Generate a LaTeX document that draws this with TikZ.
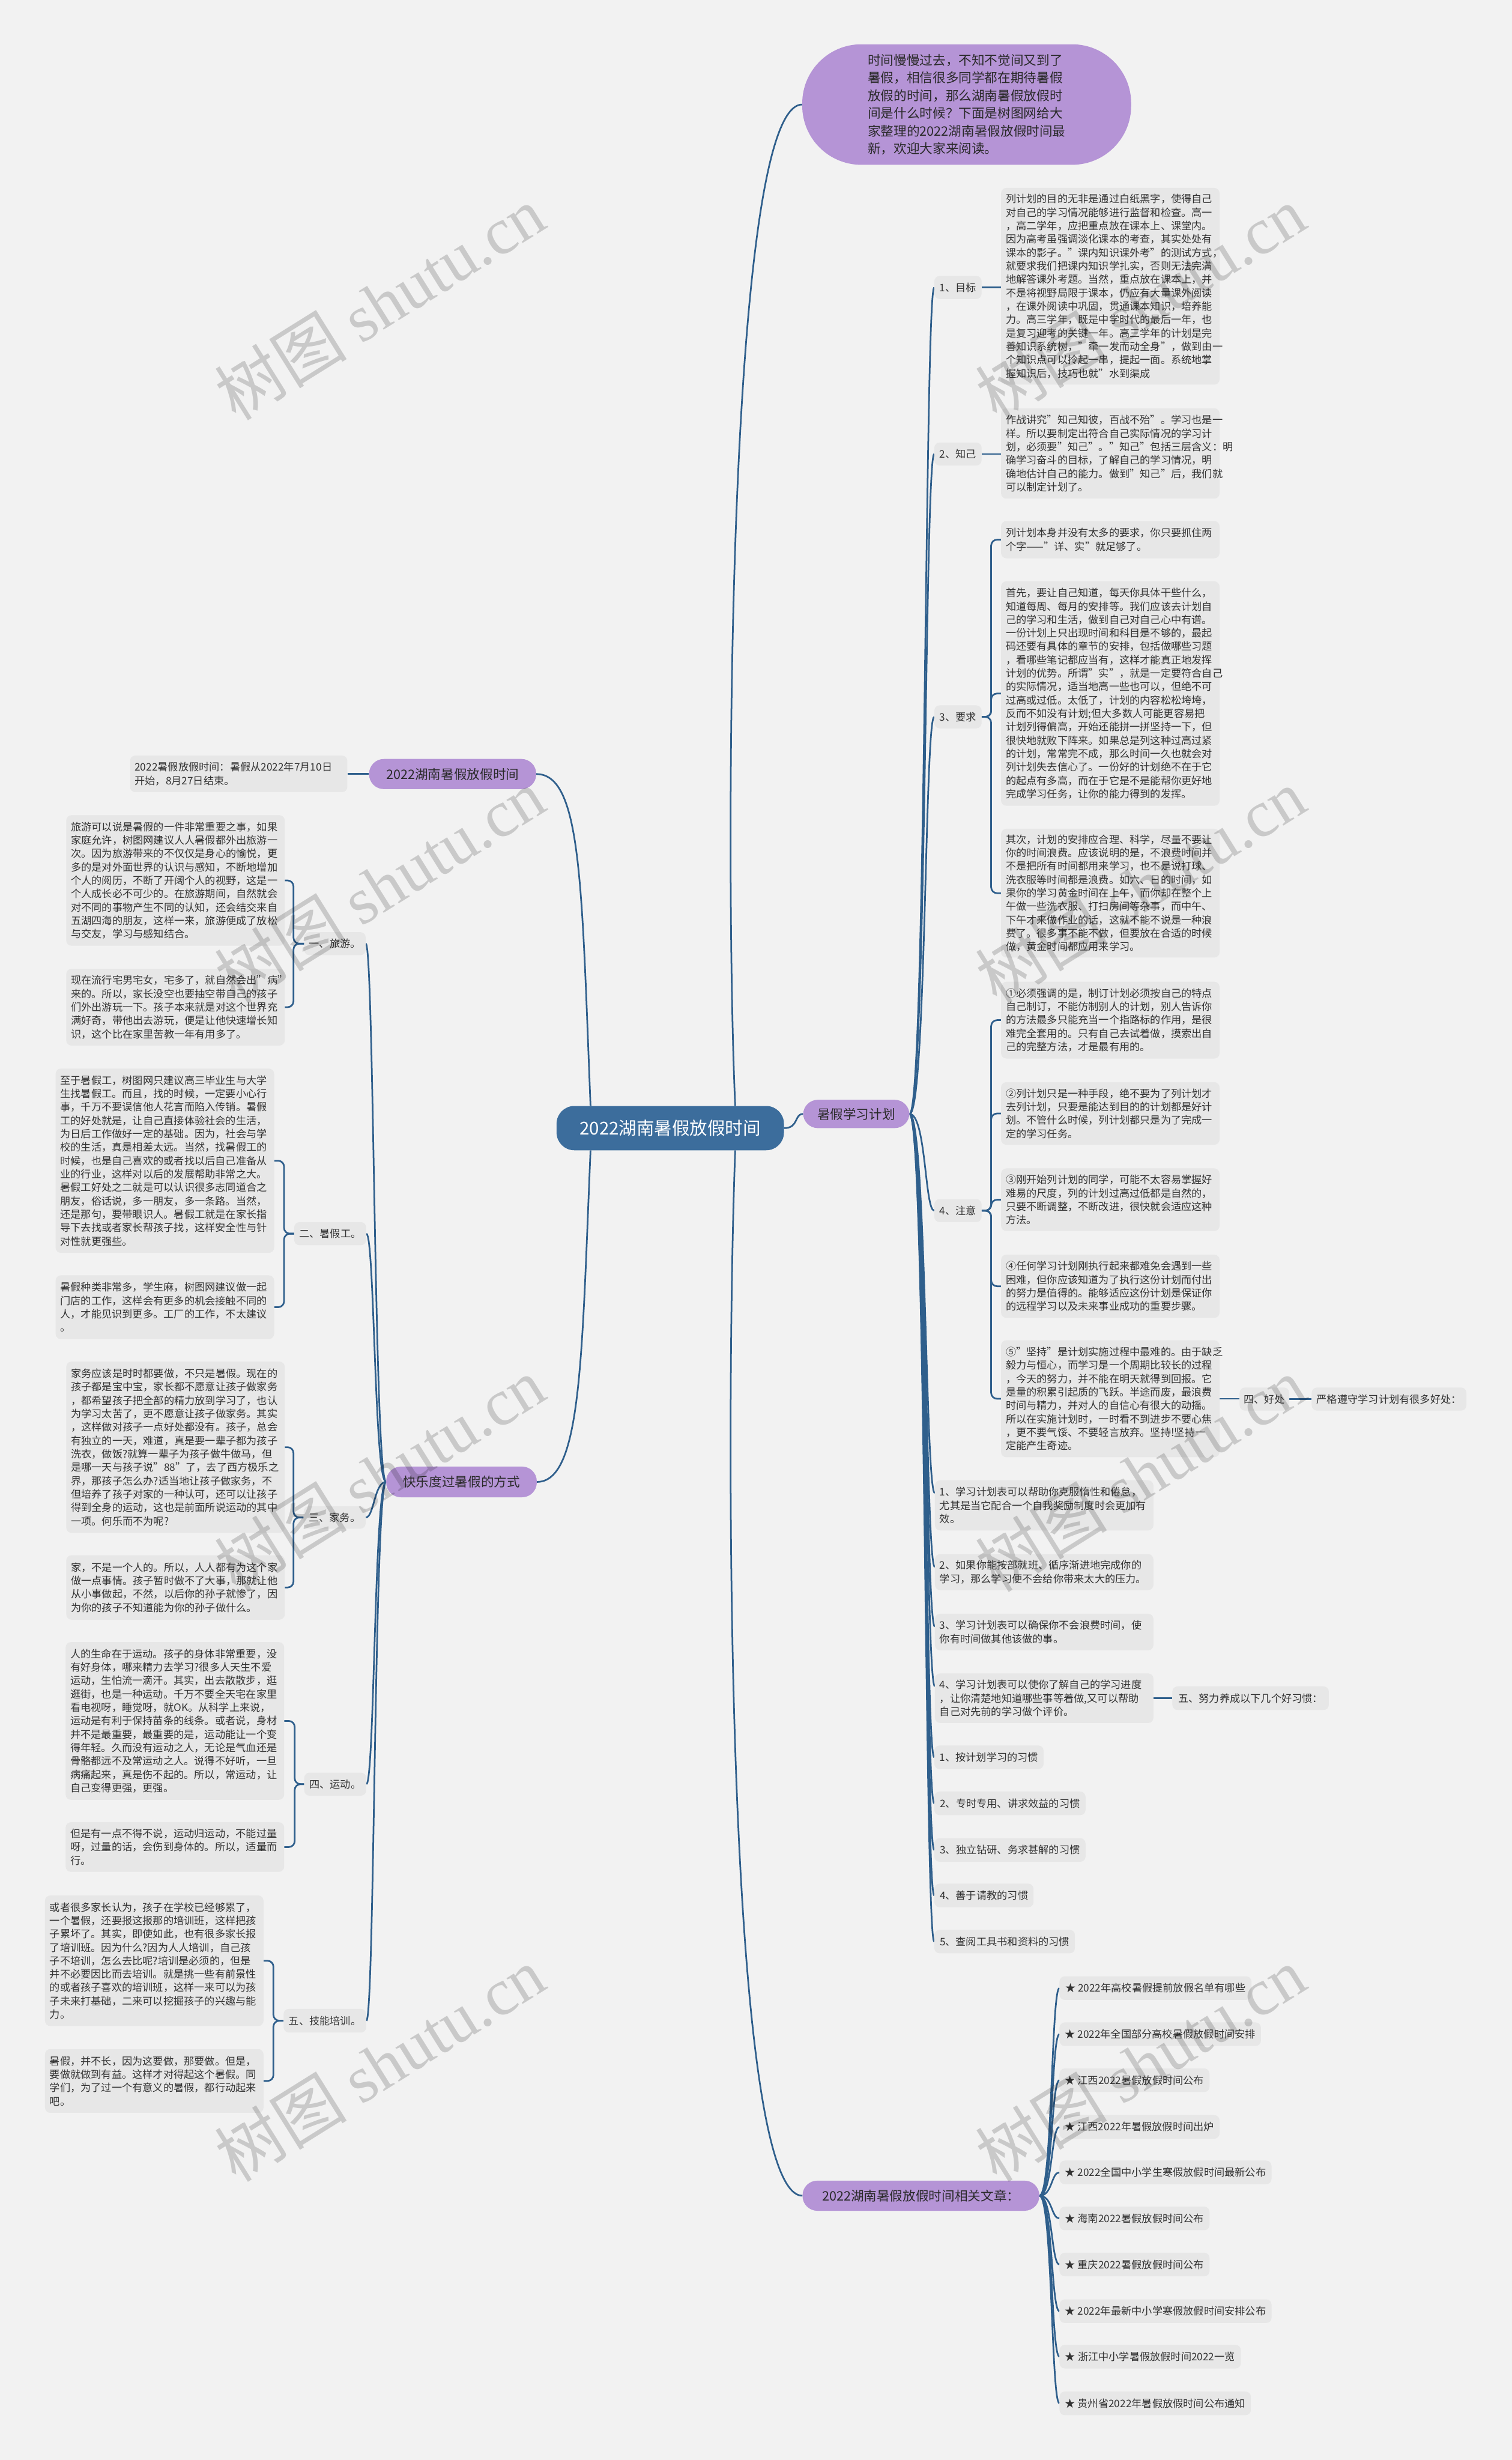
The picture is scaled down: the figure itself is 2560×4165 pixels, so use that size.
\documentclass[tikz,border=0pt]{standalone}
\usepackage{fontspec}
\setmainfont{Noto Sans CJK SC}
\newfontfamily\wmserif{Liberation Serif}
\usetikzlibrary{calc}
\definecolor{bgc}{HTML}{F2F2F2}
\definecolor{boxgray}{HTML}{E7E7E7}
\definecolor{txtc}{HTML}{333333}
\definecolor{lineblue}{HTML}{2F5F8C}
\definecolor{purp}{HTML}{B594D6}
\definecolor{ptxt}{HTML}{2A2A2A}
\definecolor{cblue}{HTML}{3C6D9C}
\pgfdeclarelayer{bg}
\pgfdeclarelayer{lines}
\pgfsetlayers{bg,lines,main}
\begin{document}
\begin{tikzpicture}[x=1pt,y=-1pt,
  conn/.style={draw=lineblue, line width=2.8pt},
  tb/.style={fill=boxgray, rounded corners=9pt, text=txtc, font=\fontsize{17.5}{22.7}\selectfont, align=left, inner xsep=8pt, inner ysep=0pt, text width=354pt, anchor=north west},
  lab/.style={fill=boxgray, rounded corners=9pt, text=txtc, font=\fontsize{17.5}{21}\selectfont, inner sep=0pt, minimum height=39pt},
  pur/.style={fill=purp, rounded corners=25pt, text=ptxt, font=\fontsize{22}{26}\selectfont, inner sep=0pt},
  wm/.style={text=black, text opacity=0.17, rotate=32, font=\fontsize{112}{112}\selectfont}]
\begin{pgfonlayer}{bg}
\fill[bgc] (0,0) rectangle (2560,4165);
\end{pgfonlayer}
\useasboundingbox (0,0) rectangle (2560,4165);

% ---------- main nodes ----------
\node[pur, rounded corners=100pt, minimum width=557pt, minimum height=204pt, align=left, font=\fontsize{22}{30}\selectfont] (intro) at (1637,177) {时间慢慢过去，不知不觉间又到了\\
暑假，相信很多同学都在期待暑假\\
放假的时间，那么湖南暑假放假时\\
间是什么时候？下面是树图网给大\\
家整理的2022湖南暑假放假时间最\\
新，欢迎大家来阅读。};

\node[fill=cblue, rounded corners=30pt, text=white, font=\fontsize{30}{34}\selectfont, minimum width=385pt, minimum height=75pt, inner sep=0pt] (root) at (1135,1910) {2022湖南暑假放假时间};

\node[pur, minimum width=180pt, minimum height=48pt] (plan) at (1450,1886) {暑假学习计划};
\node[pur, minimum width=283pt, minimum height=51pt] (n1) at (766.5,1310.5) {2022湖南暑假放假时间};
\node[pur, minimum width=255pt, minimum height=52pt] (happy) at (781.5,2509) {快乐度过暑假的方式};
\node[pur, minimum width=401pt, minimum height=51pt] (rel) at (1559.5,3717.5) {2022湖南暑假放假时间相关文章：};

% ---------- right: study plan ----------
\node[lab, anchor=north west, minimum width=80pt] (lab1) at (1582,467) {1、目标};
\node[lab, anchor=north west, minimum width=80pt] (lab2) at (1582,749) {2、知己};
\node[lab, anchor=north west, minimum width=80pt] (lab3) at (1582,1194) {3、要求};
\node[lab, anchor=north west, minimum width=80pt] (lab4) at (1582,2030) {4、注意};

\node[tb, minimum height=333pt] (tgoal) at (1695,318) {列计划的目的无非是通过白纸黑字，使得自己\\
对自己的学习情况能够进行监督和检查。高一\\
，高二学年，应把重点放在课本上、课堂内。\\
因为高考虽强调淡化课本的考查，其实处处有\\
课本的影子。"课内知识课外考"的测试方式，\\
就要求我们把课内知识学扎实，否则无法完满\\
地解答课外考题。当然，重点放在课本上，并\\
不是将视野局限于课本，仍应有大量课外阅读\\
，在课外阅读中巩固，贯通课本知识，培养能\\
力。高三学年，既是中学时代的最后一年，也\\
是复习迎考的关键一年。高三学年的计划是完\\
善知识系统树，"牵一发而动全身"，做到由一\\
个知识点可以拎起一串，提起一面。系统地掌\\
握知识后，技巧也就"水到渠成};

\node[tb, minimum height=153pt] (tzhi) at (1695,691) {作战讲究"知己知彼，百战不殆"。学习也是一\\
样。所以要制定出符合自己实际情况的学习计\\
划，必须要"知己"。"知己"包括三层含义：明\\
确学习奋斗的目标，了解自己的学习情况，明\\
确地估计自己的能力。做到"知己"后，我们就\\
可以制定计划了。};

\node[tb, minimum height=63pt] (treqA) at (1695,882) {列计划本身并没有太多的要求，你只要抓住两\\
个字——"详、实"就足够了。};

\node[tb, minimum height=380pt] (treqB) at (1695,984) {首先，要让自己知道，每天你具体干些什么，\\
知道每周、每月的安排等。我们应该去计划自\\
己的学习和生活，做到自己对自己心中有谱。\\
一份计划上只出现时间和科目是不够的，最起\\
码还要有具体的章节的安排，包括做哪些习题\\
，看哪些笔记都应当有，这样才能真正地发挥\\
计划的优势。所谓"实"，就是一定要符合自己\\
的实际情况，适当地高一些也可以，但绝不可\\
过高或过低。太低了，计划的内容松松垮垮，\\
反而不如没有计划;但大多数人可能更容易把\\
计划列得偏高，开始还能拼一拼坚持一下，但\\
很快地就败下阵来。如果总是列这种过高过紧\\
的计划，常常完不成，那么时间一久也就会对\\
列计划失去信心了。一份好的计划绝不在于它\\
的起点有多高，而在于它是不是能帮你更好地\\
完成学习任务，让你的能力得到的发挥。};

\node[tb, minimum height=218pt] (treqC) at (1695,1403) {其次，计划的安排应合理、科学，尽量不要让\\
你的时间浪费。应该说明的是，不浪费时间并\\
不是把所有时间都用来学习，也不是说打球、\\
洗衣服等时间都是浪费。如六、日的时间，如\\
果你的学习黄金时间在上午，而你却在整个上\\
午做一些洗衣服、打扫房间等杂事，而中午、\\
下午才来做作业的话，这就不能不说是一种浪\\
费了。很多事不能不做，但要放在合适的时候\\
做，黄金时间都应用来学习。};

\node[tb, minimum height=130pt] (tn1) at (1695,1662) {①必须强调的是，制订计划必须按自己的特点\\
自己制订，不能仿制别人的计划，别人告诉你\\
的方法最多只能充当一个指路标的作用，是很\\
难完全套用的。只有自己去试着做，摸索出自\\
己的完整方法，才是最有用的。};

\node[tb, minimum height=106pt] (tn2) at (1695,1832) {②列计划只是一种手段，绝不要为了列计划才\\
去列计划，只要是能达到目的的计划都是好计\\
划。不管什么时候，列计划都只是为了完成一\\
定的学习任务。};

\node[tb, minimum height=106pt] (tn3) at (1695,1978) {③刚开始列计划的同学，可能不太容易掌握好\\
难易的尺度，列的计划过高过低都是自然的，\\
只要不断调整，不断改进，很快就会适应这种\\
方法。};

\node[tb, minimum height=107pt] (tn4) at (1695,2124) {④任何学习计划刚执行起来都难免会遇到一些\\
困难，但你应该知道为了执行这份计划而付出\\
的努力是值得的。能够适应这份计划是保证你\\
的远程学习以及未来事业成功的重要步骤。};

\node[tb, minimum height=198pt] (tn5) at (1695,2269) {⑤"坚持"是计划实施过程中最难的。由于缺乏\\
毅力与恒心，而学习是一个周期比较长的过程\\
，今天的努力，并不能在明天就得到回报。它\\
是量的积累引起质的飞跃。半途而废，最浪费\\
时间与精力，并对人的自信心有很大的动摇。\\
所以在实施计划时，一时看不到进步不要心焦\\
，更不要气馁、不要轻言放弃。坚持!坚持一\\
定能产生奇迹。};

\node[lab, anchor=north west, minimum width=84pt] (good) at (2099,2349) {四、好处};
\node[lab, anchor=north west, minimum width=262pt] (strict) at (2221,2349) {严格遵守学习计划有很多好处：};

\node[tb, minimum height=85pt] (it1) at (1583,2506) {1、学习计划表可以帮助你克服惰性和倦怠，\\
尤其是当它配合一个自我奖励制度时会更加有\\
效。};
\node[tb, minimum height=61pt] (it2) at (1583,2631) {2、如果你能按部就班、循序渐进地完成你的\\
学习，那么学习便不会给你带来太大的压力。};
\node[tb, minimum height=62pt] (it3) at (1583,2732) {3、学习计划表可以确保你不会浪费时间，使\\
你有时间做其他该做的事。};
\node[tb, minimum height=84pt] (it4) at (1583,2833) {4、学习计划表可以使你了解自己的学习进度\\
，让你清楚地知道哪些事等着做,又可以帮助\\
自己对先前的学习做个评价。};
\node[lab, anchor=north west, minimum width=265pt, minimum height=40pt] (five) at (1985,2855) {五、努力养成以下几个好习惯：};

\node[lab, anchor=north west, minimum width=185pt, minimum height=40pt] (h1) at (1582,2955) {1、按计划学习的习惯};
\node[lab, anchor=north west, minimum width=256pt, minimum height=40pt] (h2) at (1582,3033) {2、专时专用、讲求效益的习惯};
\node[lab, anchor=north west, minimum width=256pt, minimum height=40pt] (h3) at (1582,3112) {3、独立钻研、务求甚解的习惯};
\node[lab, anchor=north west, minimum width=168pt, minimum height=40pt] (h4) at (1582,3189) {4、善于请教的习惯};
\node[lab, anchor=north west, minimum width=238pt, minimum height=40pt] (h5) at (1582,3267) {5、查阅工具书和资料的习惯};

% ---------- right: related articles ----------
\node[lab, anchor=west, minimum width=325pt, minimum height=40pt] (s1) at (1794,3366) {★ 2022年高校暑假提前放假名单有哪些};
\node[lab, anchor=west, minimum width=341pt, minimum height=40pt] (s2) at (1794,3444) {★ 2022年全国部分高校暑假放假时间安排};
\node[lab, anchor=west, minimum width=254pt, minimum height=40pt] (s3) at (1794,3522) {★ 江西2022暑假放假时间公布};
\node[lab, anchor=west, minimum width=271pt, minimum height=40pt] (s4) at (1794,3601) {★ 江西2022年暑假放假时间出炉};
\node[lab, anchor=west, minimum width=359pt, minimum height=40pt] (s5) at (1794,3678) {★ 2022全国中小学生寒假放假时间最新公布};
\node[lab, anchor=west, minimum width=254pt, minimum height=40pt] (s6) at (1794,3756) {★ 海南2022暑假放假时间公布};
\node[lab, anchor=west, minimum width=254pt, minimum height=40pt] (s7) at (1794,3834) {★ 重庆2022暑假放假时间公布};
\node[lab, anchor=west, minimum width=359pt, minimum height=40pt] (s8) at (1794,3913) {★ 2022年最新中小学寒假放假时间安排公布};
\node[lab, anchor=west, minimum width=307pt, minimum height=40pt] (s9) at (1794,3990) {★ 浙江中小学暑假放假时间2022一览};
\node[lab, anchor=west, minimum width=324pt, minimum height=40pt] (s10) at (1794,4069) {★ 贵州省2022年暑假放假时间公布通知};

% ---------- left ----------
\node[tb, text width=352pt, minimum height=62pt] (tdate) at (220,1279) {2022暑假放假时间：暑假从2022年7月10日\\
开始，8月27日结束。};

\node[lab, anchor=north west, minimum width=104pt] (lt) at (515,1578) {一、旅游。};
\node[tb, minimum height=221pt] (lvA) at (112,1380) {旅游可以说是暑假的一件非常重要之事，如果\\
家庭允许，树图网建议人人暑假都外出旅游一\\
次。因为旅游带来的不仅仅是身心的愉悦，更\\
多的是对外面世界的认识与感知，不断地增加\\
个人的阅历，不断了开阔个人的视野，这是一\\
个人成长必不可少的。在旅游期间，自然就会\\
对不同的事物产生不同的认知，还会结交来自\\
五湖四海的朋友，这样一来，旅游便成了放松\\
与交友，学习与感知结合。};
\node[tb, minimum height=130pt] (lvB) at (112,1640) {现在流行宅男宅女，宅多了，就自然会出"病"\\
来的。所以，家长没空也要抽空带自己的孩子\\
们外出游玩一下。孩子本来就是对这个世界充\\
满好奇，带他出去游玩，便是让他快速增长知\\
识，这个比在家里苦教一年有用多了。};

\node[lab, anchor=north west, minimum width=122pt] (lw) at (498,2069) {二、暑假工。};
\node[tb, minimum height=312pt] (wkA) at (94,1809) {至于暑假工，树图网只建议高三毕业生与大学\\
生找暑假工。而且，找的时候，一定要小心行\\
事，千万不要误信他人花言而陷入传销。暑假\\
工的好处就是，让自己直接体验社会的生活，\\
为日后工作做好一定的基础。因为，社会与学\\
校的生活，真是相差太远。当然，找暑假工的\\
时候，也是自己喜欢的或者找以后自己准备从\\
业的行业，这样对以后的发展帮助非常之大。\\
暑假工好处之二就是可以认识很多志同道合之\\
朋友，俗话说，多一朋友，多一条路。当然，\\
还是那句，要带眼识人。暑假工就是在家长指\\
导下去找或者家长帮孩子找，这样安全性与针\\
对性就更强些。};
\node[tb, minimum height=108pt] (wkB) at (94,2159) {暑假种类非常多，学生麻，树图网建议做一起\\
门店的工作，这样会有更多的机会接触不同的\\
人，才能见识到更多。工厂的工作，不太建议\\
。};

\node[lab, anchor=north west, minimum width=105pt, minimum height=38pt] (lh) at (514,2550) {三、家务。};
\node[tb, minimum height=290pt] (hwA) at (112,2305) {家务应该是时时都要做，不只是暑假。现在的\\
孩子都是宝中宝，家长都不愿意让孩子做家务\\
，都希望孩子把全部的精力放到学习了，也认\\
为学习太苦了，更不愿意让孩子做家务。其实\\
，这样做对孩子一点好处都没有。孩子，总会\\
有独立的一天，难道，真是要一辈子都为孩子\\
洗衣，做饭?就算一辈子为孩子做牛做马，但\\
是哪一天与孩子说"88"了，去了西方极乐之\\
界，那孩子怎么办?适当地让孩子做家务，不\\
但培养了孩子对家的一种认可，还可以让孩子\\
得到全身的运动，这也是前面所说运动的其中\\
一项。何乐而不为呢?};
\node[tb, minimum height=109pt] (hwB) at (112,2633) {家，不是一个人的。所以，人人都有为这个家\\
做一点事情。孩子暂时做不了大事，那就让他\\
从小事做起，不然，以后你的孙子就惨了，因\\
为你的孩子不知道能为你的孙子做什么。};

\node[lab, anchor=north west, minimum width=105pt] (ls) at (515,3001) {四、运动。};
\node[tb, minimum height=267pt] (spA) at (111,2780) {人的生命在于运动。孩子的身体非常重要，没\\
有好身体，哪来精力去学习?很多人天生不爱\\
运动，生怕流一滴汗。其实，出去散散步，逛\\
逛街，也是一种运动。千万不要全天宅在家里\\
看电视呀，睡觉呀，就OK。从科学上来说，\\
运动是有利于保持苗条的线条。或者说，身材\\
并不是最重要，最重要的是，运动能让一个变\\
得年轻。久而没有运动之人，无论是气血还是\\
骨骼都远不及常运动之人。说得不好听，一旦\\
病痛起来，真是伤不起的。所以，常运动，让\\
自己变得更强，更强。};
\node[tb, minimum height=84pt] (spB) at (111,3085) {但是有一点不得不说，运动归运动，不能过量\\
呀，过量的话，会伤到身体的。所以，适量而\\
行。};

\node[lab, anchor=north west, minimum width=140pt, minimum height=40pt] (lk) at (480,3401) {五、技能培训。};
\node[tb, minimum height=221pt] (skA) at (76,3209) {或者很多家长认为，孩子在学校已经够累了，\\
一个暑假，还要报这报那的培训班，这样把孩\\
子累坏了。其实，即使如此，也有很多家长报\\
了培训班。因为什么?因为人人培训，自己孩\\
子不培训，怎么去比呢?培训是必须的，但是\\
并不必要因比而去培训。就是挑一些有前景性\\
的或者孩子喜欢的培训班，这样一来可以为孩\\
子未来打基础，二来可以挖掘孩子的兴趣与能\\
力。};
\node[tb, minimum height=108pt] (skB) at (76,3469) {暑假，并不长，因为这要做，那要做。但是，\\
要做就做到有益。这样才对得起这个暑假。同\\
学们，为了过一个有意义的暑假，都行动起来\\
吧。};

% ---------- connectors ----------
\begin{pgfonlayer}{lines}
% root
\draw[conn] ($(root.north)+(110,0)$) .. controls (1228,1500) and (1228,177) .. (intro.west);
\draw[conn] ($(root.south)+(110,0)$) .. controls (1228,2400) and (1228,3717.5) .. (rel.west);
\draw[conn] (root.east) .. controls +(25,0) and +(-15,0) .. (plan.west);
\draw[conn] ($(root.north)+(-135,0)$) .. controls (985,1500) and (985,1310.5) .. (n1.east);
\draw[conn] ($(root.south)+(-135,0)$) .. controls (985,2300) and (985,2509) .. (happy.east);
% plan children
\foreach \c in {lab1,lab2,lab3,lab4,h1,h2,h3,h4,h5}
  \draw[conn] (plan.east) .. controls +(28,0) and +(-16,0) .. (\c.west);
\foreach \c in {it1,it2,it3,it4}
  \draw[conn] (plan.east) .. controls +(28,0) and +(-16,0) .. ($(\c.north west)+(0,22)$);
\draw[conn] (lab1.east) -- (lab1.east -| tgoal.west);
\draw[conn] (lab2.east) -- (lab2.east -| tzhi.west);
\foreach \c in {treqA,treqB,treqC}
  \draw[conn, rounded corners=10pt] (lab3.east) -- ++(16,0) |- (\c.west);
\foreach \c in {tn1,tn2,tn3,tn4,tn5}
  \draw[conn, rounded corners=10pt] (lab4.east) -- ++(16,0) |- (\c.west);
\draw[conn] (tn5.east) -- (tn5.east -| good.west);
\draw[conn] (good.east) -- (strict.west);
\draw[conn] (it4.east) -- (it4.east -| five.west);
% related
\foreach \c in {s1,s2,s3,s4,s5,s6,s7,s8,s9,s10}
  \draw[conn] (rel.east) .. controls +(22,0) and +(-14,0) .. (\c.west);
% left
\draw[conn] (tdate.east) -- (tdate.east -| n1.west);
\foreach \c in {lt,lw,lh,ls,lk}
  \draw[conn] (happy.west) .. controls +(-20,0) and +(14,0) .. (\c.east);
\foreach \c in {lvA,lvB}
  \draw[conn, rounded corners=10pt] (lt.west) -- ++(-18,0) |- (\c.east);
\foreach \c in {wkA,wkB}
  \draw[conn, rounded corners=10pt] (lw.west) -- ++(-17,0) |- (\c.east);
\foreach \c in {hwA,hwB}
  \draw[conn, rounded corners=10pt] (lh.west) -- ++(-17,0) |- (\c.east);
\foreach \c in {spA,spB}
  \draw[conn, rounded corners=10pt] (ls.west) -- ++(-16,0) |- (\c.east);
\foreach \c in {skA,skB}
  \draw[conn, rounded corners=10pt] (lk.west) -- ++(-17,0) |- (\c.east);
\end{pgfonlayer}

% ---------- watermarks ----------
\foreach \wx in {643,1931}
  \foreach \wy in {513,1500,2496,3495}
    \node[wm] at (\wx,\wy) {树图 {\wmserif shutu.cn}};
\end{tikzpicture}
\end{document}
